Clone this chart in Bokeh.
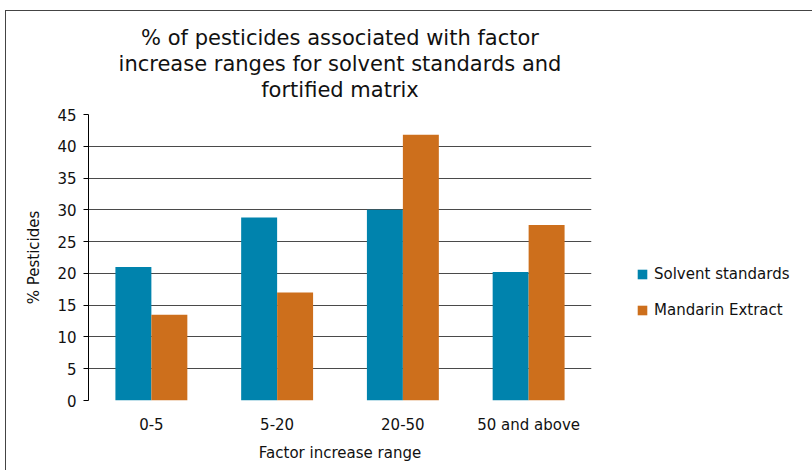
from bokeh.plotting import figure
from bokeh.models import Legend, LegendItem, Title, FactorRange, SingleIntervalTicker
from bokeh.embed import file_html
from bokeh.resources import INLINE
from bokeh.transform import dodge

categories = ["0-5", "5-20", "20-50", "50 and above"]
solvent = [21.0, 28.8, 30.0, 20.2]
mandarin = [13.5, 17.0, 41.8, 27.6]
series_names = ["Solvent standards", "Mandarin Extract"]
colors = ["#0083AD", "#CD6F1C"]
title_lines = ["% of pesticides associated with factor",
               "increase ranges for solvent standards and",
               "fortified matrix"]

FONT = "DejaVu Sans"
p = figure(x_range=FactorRange(*categories), y_range=(0, 45),
           width=807, height=460, output_backend="svg", toolbar_location=None,
           min_border_left=82, min_border_right=222, min_border_top=103, min_border_bottom=71,
           styles={"margin-left": "5px", "margin-top": "10px",
                   "border-left": "1px solid #444", "border-top": "1px solid #444"})
p.frame_width = 503
p.frame_height = 286

src = dict(cat=categories, s=solvent, m=mandarin)
w = 0.286
r1 = p.vbar(x=dodge("cat", -w / 2, range=p.x_range), top="s", width=w, source=src,
            fill_color=colors[0], line_color=None)
r2 = p.vbar(x=dodge("cat", w / 2, range=p.x_range), top="m", width=w, source=src,
            fill_color=colors[1], line_color=None)

# spacer between frame and title block
p.add_layout(Title(text=" ", text_font_size="10px", standoff=0), "above")
for t in reversed(title_lines):
    p.add_layout(Title(text=t, align="center", text_font=FONT, text_font_size="21px",
                       text_font_style="normal", text_color="#111", standoff=0), "above")

p.outline_line_color = None
p.x_range.range_padding = 0
p.yaxis.ticker = SingleIntervalTicker(interval=5)
p.yaxis.axis_line_color = "black"
p.yaxis.major_tick_out = 5
p.yaxis.major_tick_in = 0
p.yaxis.minor_tick_line_color = None
p.yaxis.major_label_text_font = FONT
p.yaxis.major_label_text_font_size = "15px"
p.yaxis.major_label_text_color = "#111"
p.yaxis.major_label_standoff = 7
p.yaxis.axis_label = "% Pesticides"
p.yaxis.axis_label_text_font = FONT
p.yaxis.axis_label_text_font_size = "15px"
p.yaxis.axis_label_text_font_style = "normal"
p.yaxis.axis_label_text_color = "#111"
p.yaxis.axis_label_standoff = 11

p.xaxis.axis_line_color = None
p.xaxis.major_tick_line_color = None
p.xaxis.major_label_text_font = FONT
p.xaxis.major_label_text_font_size = "15px"
p.xaxis.major_label_text_color = "#111"
p.xaxis.major_label_standoff = 9
p.xaxis.axis_label = "Factor increase range"
p.xaxis.axis_label_text_font = FONT
p.xaxis.axis_label_text_font_size = "15px"
p.xaxis.axis_label_text_font_style = "normal"
p.xaxis.axis_label_text_color = "#111"
p.xaxis.axis_label_standoff = 7

p.xgrid.grid_line_color = None
p.ygrid.grid_line_color = "#4a4a4a"
p.ygrid.ticker = SingleIntervalTicker(interval=5)

legend = Legend(items=[LegendItem(label=series_names[0], renderers=[r1]),
                       LegendItem(label=series_names[1], renderers=[r2])],
                location=(45, 80), border_line_color=None, background_fill_alpha=0,
                label_text_font=FONT, label_text_font_size="15px", label_text_color="#111",
                glyph_width=12, glyph_height=12, label_height=20, spacing=16,
                padding=0, margin=0, label_standoff=6)
p.add_layout(legend, "right")

open("out.html", "w").write(file_html(p, INLINE))
